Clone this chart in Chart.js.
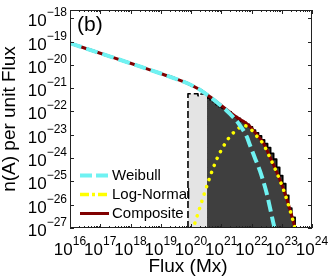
<!DOCTYPE html>
<html>
<head>
<meta charset="utf-8">
<script src="https://cdn.jsdelivr.net/npm/chart.js@4.4.1/dist/chart.umd.min.js"></script>
<style>
  html, body { margin: 0; padding: 0; background: #fff; }
</style>
</head>
<body>
<canvas id="FluxChart" width="332" height="277"></canvas>
<script>
// all values are log10 exponents
var weibullLogFlux = [16.0, 17.0, 18.0, 18.5, 19.0, 19.5, 19.9, 20.3, 20.63, 20.96, 21.29, 21.62, 21.84, 21.95, 22.1, 22.28, 22.5, 22.72, 22.8];
var weibullLogN = [-19.07, -19.5, -19.93, -20.15, -20.37, -20.6, -20.8, -21.07, -21.38, -21.72, -22.1, -22.6, -23.07, -23.45, -23.95, -24.55, -25.5, -26.77, -27.2];

var logNormalLogFlux = [20.05, 20.13, 20.41, 20.63, 20.85, 21.07, 21.29, 21.51, 21.73, 21.95, 22.12, 22.39, 22.61, 22.8, 23.05, 23.2, 23.38, 23.46];
var logNormalLogN = [-27.1, -26.78, -25.65, -24.79, -24.05, -23.5, -23.07, -22.79, -22.6, -22.72, -22.98, -23.4, -23.98, -24.52, -25.33, -25.92, -26.72, -27.1];

var compositeLogFlux = [16.0, 17.0, 18.0, 18.5, 19.0, 19.5, 19.9, 20.3, 20.63, 20.96, 21.29, 21.51, 21.73, 21.95, 22.12, 22.39, 22.61, 22.8, 23.05, 23.2, 23.38, 23.46];
var compositeLogN = [-19.07, -19.5, -19.93, -20.15, -20.37, -20.6, -20.8, -21.07, -21.37, -21.7, -22.03, -22.25, -22.42, -22.65, -22.9, -23.35, -23.95, -24.5, -25.3, -25.9, -26.7, -27.1];

// histogram below the completeness limit (light) and above it (dark)
var histLightEdges = [19.9, 20.23, 20.33, 20.53];
var histLightLogN = [-21.24, -21.32, -21.25];

var histDarkEdges = [20.53, 20.63, 20.73, 20.83, 20.93, 21.03, 21.13, 21.23, 21.33, 21.43, 21.53, 21.63, 21.73, 21.83, 21.93,
  22.03, 22.13, 22.23, 22.33, 22.43, 22.53, 22.63, 22.73, 22.83, 22.93, 23.03, 23.13, 23.23, 23.33, 23.44];
var histDarkLogN = [-21.42, -21.5, -21.58, -21.7, -21.8, -21.86, -21.98, -22.02, -22.15, -22.22, -22.3, -22.4, -22.47, -22.55, -22.66,
  -22.8, -22.92, -23.05, -23.22, -23.38, -23.55, -23.8, -24.05, -24.4, -24.75, -25.1, -25.6, -26.15, -26.55];

var xTickExps = [16, 17, 18, 19, 20, 21, 22, 23, 24];
var yTickExps = [-27, -26, -25, -24, -23, -22, -21, -20, -19, -18];
var xMinExp = 16, xMaxExp = 24;
var yMinExp = -27, yMaxExp = -17.644;

var FONT = '"Liberation Sans", Arial, Helvetica, sans-serif';

function toPoints(lx, ly) {
  return lx.map(function (e, i) {
    return { x: Math.pow(10, e), y: Math.pow(10, ly[i]) };
  });
}

function stepPoints(edges, vals, closeLeft, closeRight) {
  var pts = [];
  var bottom = Math.pow(10, yMinExp);
  if (closeLeft) pts.push({ x: Math.pow(10, edges[0]), y: bottom });
  for (var i = 0; i < vals.length; i++) {
    pts.push({ x: Math.pow(10, edges[i]), y: Math.pow(10, vals[i]) });
  }
  var last = Math.pow(10, edges[edges.length - 1]);
  pts.push({ x: last, y: closeRight ? bottom : Math.pow(10, vals[vals.length - 1]) });
  return pts;
}

function drawPower(ctx, exp, x, y, align) {
  var base = '10';
  var sup = exp < 0 ? '\u2212' + (-exp) : String(exp);
  ctx.font = '17px ' + FONT;
  var wb = ctx.measureText(base).width;
  ctx.font = '12px ' + FONT;
  var ws = ctx.measureText(sup).width;
  var left = align === 'right' ? x - wb - ws : x - (wb + ws) / 2;
  ctx.textAlign = 'left';
  ctx.textBaseline = 'alphabetic';
  ctx.font = '17px ' + FONT;
  ctx.fillText(base, left, y);
  ctx.font = '12px ' + FONT;
  ctx.fillText(sup, left + wb, y - 10);
}

var matlabAxes = {
  id: 'matlabAxes',
  afterDraw: function (chart) {
    var ctx = chart.ctx;
    var a = chart.chartArea;
    var xs = chart.scales.x;
    var ys = chart.scales.y;
    ctx.save();

    // box
    ctx.strokeStyle = '#222';
    ctx.lineWidth = 1;
    ctx.strokeRect(a.left + 0.5, a.top + 0.5, a.right - a.left - 1, a.bottom - a.top - 1);

    // inward ticks
    ctx.beginPath();
    xTickExps.forEach(function (e) {
      var px = Math.round(xs.getPixelForValue(Math.pow(10, e))) + 0.5;
      ctx.moveTo(px, a.bottom); ctx.lineTo(px, a.bottom - 4);
      ctx.moveTo(px, a.top); ctx.lineTo(px, a.top + 4);
      for (var m = 2; m < 10 && e < xMaxExp; m++) {
        var mx = Math.round(xs.getPixelForValue(m * Math.pow(10, e))) + 0.5;
        ctx.moveTo(mx, a.bottom); ctx.lineTo(mx, a.bottom - 2);
        ctx.moveTo(mx, a.top); ctx.lineTo(mx, a.top + 2);
      }
    });
    yTickExps.forEach(function (e) {
      var py = Math.round(ys.getPixelForValue(Math.pow(10, e))) + 0.5;
      ctx.moveTo(a.left, py); ctx.lineTo(a.left + 4, py);
      ctx.moveTo(a.right, py); ctx.lineTo(a.right - 4, py);
    });
    ctx.stroke();

    // tick labels
    ctx.fillStyle = '#000';
    xTickExps.forEach(function (e) {
      drawPower(ctx, e, xs.getPixelForValue(Math.pow(10, e)), 255, 'center');
    });
    yTickExps.forEach(function (e) {
      drawPower(ctx, e, 67, ys.getPixelForValue(Math.pow(10, e)) + 8, 'right');
    });

    // axis titles
    ctx.font = '19px ' + FONT;
    ctx.textAlign = 'center';
    ctx.textBaseline = 'alphabetic';
    ctx.fillText('Flux (Mx)', 188, 272);
    ctx.save();
    ctx.translate(15, (a.top + a.bottom) / 2);
    ctx.rotate(-Math.PI / 2);
    ctx.fillText('n(A) per unit Flux', 0, 0);
    ctx.restore();

    // panel letter
    ctx.font = '21px ' + FONT;
    ctx.textAlign = 'left';
    ctx.fillText('(b)', 77, 31);

    // legend
    var rows = [175, 194, 213];
    var items = chart.data.datasets.filter(function (d) { return d.inLegend; });
    ctx.font = '15px ' + FONT;
    items.forEach(function (d, i) {
      var y = rows[i] + 0.5;
      ctx.beginPath();
      ctx.strokeStyle = d.borderColor;
      ctx.lineWidth = d.borderWidth;
      ctx.lineCap = 'butt';
      ctx.setLineDash(d.legendDash || []);
      ctx.moveTo(80, y);
      ctx.lineTo(109, y);
      ctx.stroke();
      ctx.setLineDash([]);
      ctx.fillStyle = '#000';
      ctx.fillText(d.label, 112, rows[i] + 5);
    });

    ctx.restore();
  }
};

var config = {
  type: 'line',
  data: {
    datasets: [{
      label: 'Weibull',
      inLegend: true,
      data: toPoints(weibullLogFlux, weibullLogN),
      borderColor: '#6ff2f2',
      borderWidth: 4,
      borderDash: [12, 5],
      legendDash: [12, 4],
      cubicInterpolationMode: 'monotone',
      order: 1
    }, {
      label: 'Log-Normal',
      inLegend: true,
      data: toPoints(logNormalLogFlux, logNormalLogN),
      borderColor: '#ffff00',
      borderWidth: 3.5,
      borderDash: [0.1, 7.5],
      borderCapStyle: 'round',
      legendDash: [9, 3, 3, 3],
      cubicInterpolationMode: 'monotone',
      order: 2
    }, {
      label: 'Composite',
      inLegend: true,
      data: toPoints(compositeLogFlux, compositeLogN),
      borderColor: '#800000',
      borderWidth: 3,
      cubicInterpolationMode: 'monotone',
      order: 3
    }, {
      label: 'Observed',
      data: stepPoints(histDarkEdges, histDarkLogN, false, true),
      borderColor: '#000',
      borderWidth: 1.8,
      backgroundColor: '#3f3f3f',
      borderJoinStyle: 'round',
      stepped: true,
      fill: 'start',
      order: 4
    }, {
      label: 'Below limit',
      data: stepPoints(histLightEdges, histLightLogN, true, false),
      borderColor: '#000',
      borderWidth: 1.6,
      borderDash: [7, 3],
      backgroundColor: '#e4e4e4',
      borderJoinStyle: 'round',
      stepped: true,
      fill: 'start',
      order: 5
    }]
  },
  options: {
    responsive: false,
    animation: false,
    clip: 0,
    layout: { padding: { left: 70, top: 10, right: 20, bottom: 49 } },
    elements: { point: { radius: 0 }, line: { tension: 0 } },
    plugins: { legend: { display: false }, tooltip: { enabled: false } },
    scales: {
      x: { type: 'logarithmic', display: false, bounds: 'data', min: Math.pow(10, xMinExp), max: Math.pow(10, xMaxExp) },
      y: { type: 'logarithmic', display: false, bounds: 'data', min: Math.pow(10, yMinExp), max: Math.pow(10, yMaxExp) }
    }
  },
  plugins: [matlabAxes]
};

var ctx = document.getElementById('FluxChart').getContext('2d');
window.fluxChart = new Chart(ctx, config);
</script>
</body>
</html>
